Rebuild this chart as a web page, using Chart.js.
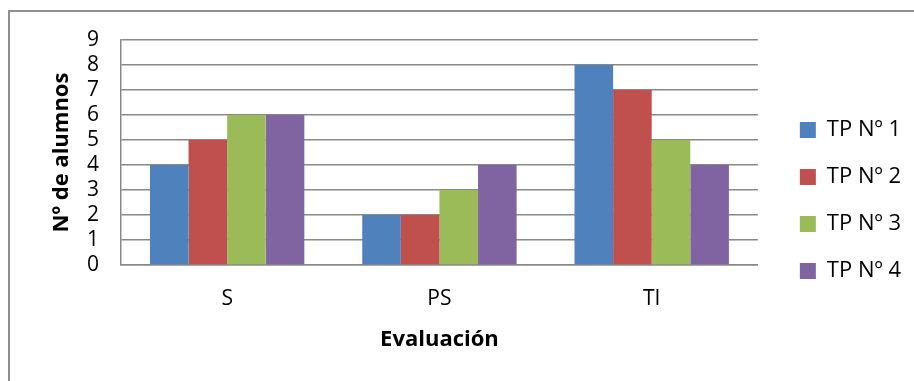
<!DOCTYPE html>
<html>
<head>
<meta charset="utf-8">
<script src="https://cdn.jsdelivr.net/npm/chart.js@4/dist/chart.umd.min.js"></script>
<style>
  html, body { margin: 0; padding: 0; background: #fff; }
  canvas { display: block; }
</style>
</head>
<body>
<canvas id="chart-eval" width="914" height="381"></canvas>
<script>
// evaluación por TP – grouped bars, Excel look
const categories = ["S", "PS", "TI"];
const seriesNames = ["TP Nº 1", "TP Nº 2", "TP Nº 3", "TP Nº 4"];
const tp1 = [4, 2, 8];
const tp2 = [5, 2, 7];
const tp3 = [6, 3, 5];
const tp4 = [6, 4, 4];
const yTicks = [0, 1, 2, 3, 4, 5, 6, 7, 8, 9];

const colors = ["#4F81BD", "#C0504D", "#9BBB59", "#8064A2"];
const FONT = "'Open Sans', 'Noto Sans', sans-serif";
const GRID = "#888888";

// grey frame around the whole chart (only top/left visible in the picture)
const framePlugin = {
  id: "frame",
  beforeDraw(chart) {
    const ctx = chart.ctx;
    ctx.save();
    ctx.fillStyle = "#fff";
    ctx.fillRect(0, 0, chart.width, chart.height);
    ctx.strokeStyle = "#8f8f8f";
    ctx.lineWidth = 2;
    ctx.strokeRect(9, 11, chart.width + 20, chart.height + 20);
    ctx.restore();
  }
};

// push legend items a bit right of the plot area
const legendShift = {
  id: "legendShift",
  afterLayout(chart) {
    if (chart.legend) {
      chart.legend.left += 17;
      chart.legend.right += 17;
    }
  }
};

const ctx = document.getElementById("chart-eval").getContext("2d");

new Chart(ctx, {
  type: "bar",
  data: {
    labels: categories,
    datasets: [tp1, tp2, tp3, tp4].map((vals, i) => ({
      label: seriesNames[i],
      data: vals,
      backgroundColor: colors[i],
      borderWidth: 0,
      categoryPercentage: 4 / 5.5,
      barPercentage: 1
    }))
  },
  options: {
    responsive: false,
    animation: false,
    layout: { padding: { left: 30, top: 40, right: 20, bottom: 20 } },
    plugins: {
      tooltip: { enabled: false },
      legend: {
        position: "right",
        labels: {
          color: "#000",
          font: { family: FONT, size: 22 },
          boxWidth: 16,
          boxHeight: 16,
          padding: 25
        }
      }
    },
    scales: {
      x: {
        grid: { display: false },
        border: { display: true, color: GRID, width: 1.5 },
        ticks: { color: "#000", font: { family: FONT, size: 21 }, padding: 13 },
        title: {
          display: true,
          text: "Evaluación",
          color: "#000",
          font: { family: FONT, size: 22, weight: "bold" },
          padding: { top: 0, bottom: 8 }
        },
        afterFit(scale) { scale.height = 96; }
      },
      y: {
        min: 0,
        max: 9,
        afterBuildTicks(scale) { scale.ticks = yTicks.map(v => ({ value: v })); },
        grid: { color: GRID, lineWidth: 1.5, drawTicks: false },
        border: { display: true, color: GRID, width: 1.5 },
        ticks: { color: "#000", font: { family: FONT, size: 21 }, padding: 22, autoSkip: false },
        title: {
          display: true,
          text: "Nº de alumnos",
          color: "#000",
          font: { family: FONT, size: 22, weight: "bold" },
          padding: { top: 19, bottom: 0 }
        },
        afterFit(scale) { scale.width = 91; }
      }
    }
  },
  plugins: [framePlugin, legendShift]
});
</script>
</body>
</html>
